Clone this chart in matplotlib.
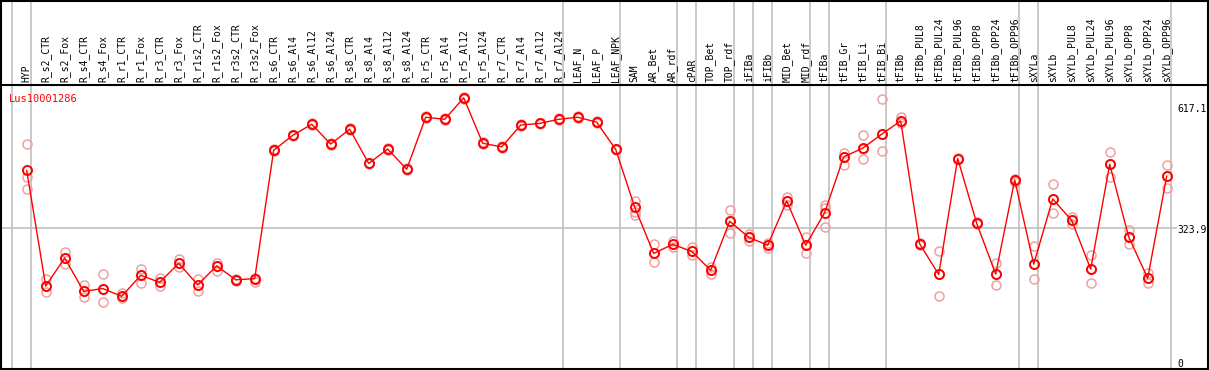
import matplotlib.pyplot as plt

# column names
samples = ["HYP", "R_s2_CTR", "R_s2_Fox", "R_s4_CTR", "R_s4_Fox", "R_r1_CTR", "R_r1_Fox",
           "R_r3_CTR", "R_r3_Fox", "R_r1s2_CTR", "R_r1s2_Fox", "R_r3s2_CTR", "R_r3s2_Fox",
           "R_s6_CTR", "R_s6_Al4", "R_s6_Al12", "R_s6_Al24", "R_s8_CTR", "R_s8_Al4",
           "R_s8_Al12", "R_s8_Al24", "R_r5_CTR", "R_r5_Al4", "R_r5_Al12", "R_r5_Al24",
           "R_r7_CTR", "R_r7_Al4", "R_r7_Al12", "R_r7_Al24", "LEAF_N", "LEAF_P", "LEAF_NPK",
           "SAM", "AR_Bet", "AR_rdf", "cPAR", "TOP_Bet", "TOP_rdf", "iFIBa", "iFIBb",
           "MID_Bet", "MID_rdf", "tFIBa", "tFIB_Gr", "tFIB_Li", "tFIB_Bi", "tFIBb",
           "tFIBb_PUL8", "tFIBb_PUL24", "tFIBb_PUL96", "tFIBb_OPP8", "tFIBb_OPP24",
           "tFIBb_OPP96", "sXYLa", "sXYLb", "sXYLb_PUL8", "sXYLb_PUL24", "sXYLb_PUL96",
           "sXYLb_OPP8", "sXYLb_OPP24", "sXYLb_OPP96"]

# mean expression per sample
means = [464, 184, 252, 171, 178, 159, 210, 193, 239, 187, 233, 199, 202,
         513, 549, 576, 528, 564, 481, 516, 467, 593, 588, 640, 530,
         521, 574, 578, 588, 593, 581, 515,
         375, 263, 285, 268, 222, 341, 302, 283, 390, 283, 362, 497, 518, 552, 584,
         286, 212, 493, 336, 213, 441,
         237, 395, 343, 225, 479, 303, 203, 450]

# replicates
reps = [[528, 447, 419], [200, 184, 169], [266, 252, 237], [186, 171, 158], [213, 178, 145],
        [166, 159, 155], [225, 210, 192], [203, 193, 185], [249, 239, 231], [200, 187, 172],
        [241, 233, 221], [196, 199, 201], [194, 202, 204],
        [513, 511, 515], [549, 547, 551], [576, 574, 578], [528, 526, 530], [564, 562, 566],
        [481, 479, 483], [516, 514, 518], [467, 465, 469], [593, 591, 595], [588, 586, 590],
        [640, 638, 642], [530, 528, 532], [521, 519, 523], [574, 572, 576], [578, 576, 580],
        [588, 586, 590], [593, 591, 595], [581, 579, 583], [515, 513, 517],
        [391, 364, 356], [285, 263, 243], [294, 285, 279], [279, 268, 259], [231, 222, 213],
        [368, 341, 312], [310, 302, 294], [288, 283, 277], [400, 390, 380], [304, 283, 265],
        [380, 372, 327], [507, 497, 477], [549, 515, 493], [637, 552, 511], [593, 584, 580],
        [289, 286, 283], [268, 212, 160], [495, 493, 491], [338, 336, 334], [241, 213, 187],
        [444, 441, 437], [281, 237, 201], [431, 395, 360], [352, 343, 334], [259, 225, 192],
        [509, 479, 447], [320, 303, 285], [216, 203, 191], [477, 450, 421]]

# gray separators after these columns
group_ends = [-1, 0, 28, 31, 34, 35, 37, 38, 39, 41, 42, 45, 52, 53, 60]

gene = "Lus10001286"
y_ticks = [617.1, 323.9, 0]

fig = plt.figure(figsize=(12.09, 3.70), dpi=100)
ax = fig.add_axes([0, 0, 1, 1])
ax.set_xlim(-1.405, 62.226)
ax.set_ylim(-19.4, 877)
ax.axis("off")

xs = list(range(len(samples)))
off = 4 / 19.0

for g in group_ends:
    ax.axvline(g + off, color="#c0c0c0", lw=1.2, zorder=1)

ax.hlines(323.9, -1.405, 60.6, color="#c0c0c0", lw=1.2, zorder=1)
ax.axhline(671.1, color="black", lw=1.5, zorder=2)
ax.add_patch(plt.Rectangle((0.001, 0.003), 0.998, 0.995, transform=ax.transAxes,
                           fill=False, edgecolor="black", lw=1.5, zorder=5))

for i, r in enumerate(reps):
    ax.plot([i] * len(r), r, "o", ms=6.5, mfc="none", mec="#f0a0a0", mew=1.1, zorder=3)

ax.plot(xs, means, "-", color="red", lw=1.0, zorder=4)
ax.plot(xs, means, "o", ms=6.5, mfc="none", mec="red", mew=1.4, zorder=4)

for i, s in enumerate(samples):
    ax.text(i, 678, s, rotation=90, ha="center", va="bottom", fontsize=7,
            family="DejaVu Sans Mono", color="black")

ax.text(-0.95, 638, gene, color="red", fontsize=7.5, family="DejaVu Sans Mono",
        ha="left", va="center")

for v in y_ticks:
    ax.text(60.55, v - 4, f"{v:g}", fontsize=7, family="DejaVu Sans Mono",
            ha="left", va="center", color="black", zorder=3,
            bbox=dict(facecolor="white", edgecolor="none", pad=0.3))

fig.savefig("out.png", dpi=100)
